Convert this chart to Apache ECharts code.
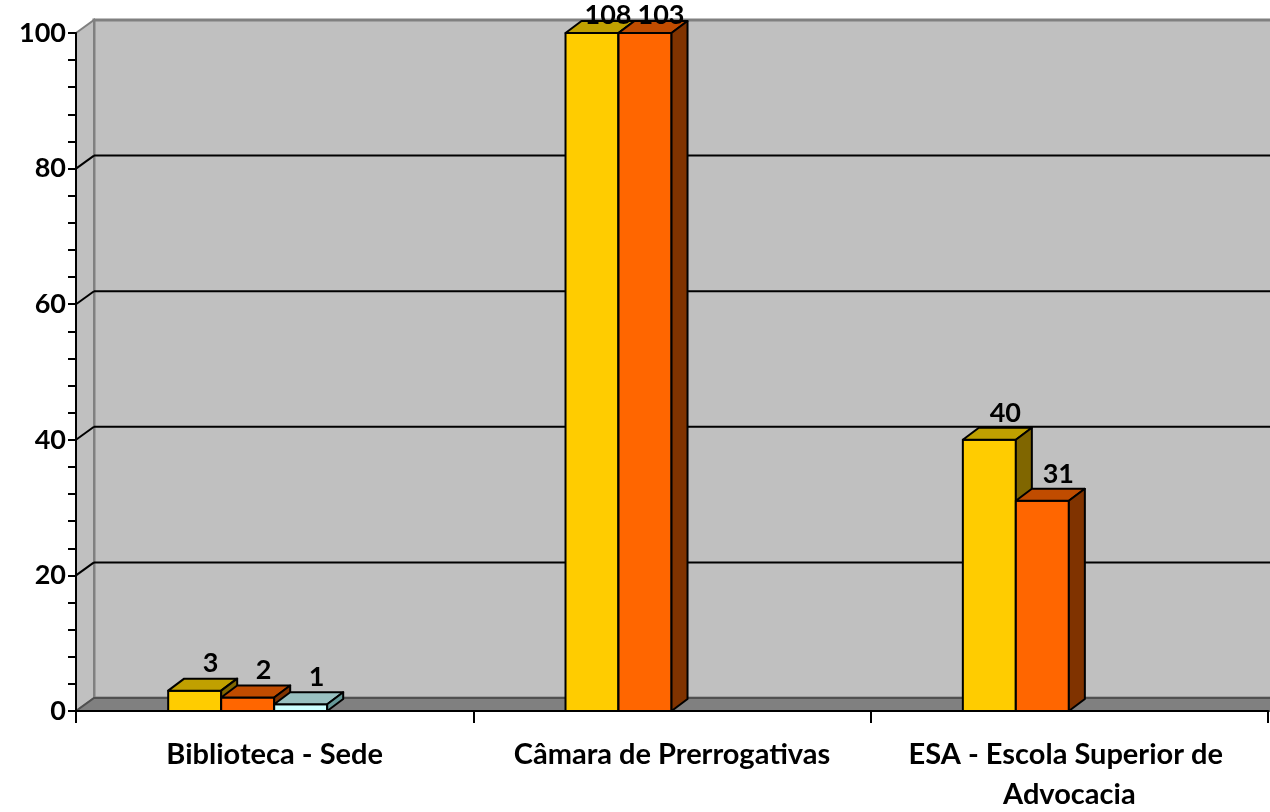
<!DOCTYPE html>
<html>
<head>
<meta charset="utf-8">
<script src="https://cdn.jsdelivr.net/npm/echarts@6/dist/echarts.min.js"></script>
<style>html,body{margin:0;padding:0;background:#fff}#c{width:1270px;height:812px}</style>
</head>
<body>
<div id="c"></div>
<script>
const categories = ['Biblioteca - Sede', 'Câmara de Prerrogativas', 'ESA - Escola Superior de Advocacia'];
const seriesA = [3, 108, 40];
const seriesB = [2, 103, 31];
const seriesC = [1, null, null];
const yTicks = [0, 20, 40, 60, 80, 100];
const yMax = 100;

const FONT = 'Lato';
const DX = 18, DY = -13;   // wall depth
const BDX = 16, BDY = -12; // bar depth

const palettes = [
  {front: '#FFCC00', top: '#C0A000', side: '#806600'},
  {front: '#FF6600', top: '#C04C00', side: '#803300'},
  {front: '#CCFFFF', top: '#99C0C0', side: '#669999'}
];

function barRender(si) {
  const c = palettes[si];
  return function (params, api) {
    const cat = api.value(0);
    const v = api.value(1);
    if (v == null || isNaN(v)) return;
    const base = api.coord([cat, 0]);
    const top = api.coord([cat, Math.min(v, yMax)]);
    const band = api.size([1, 0])[0];
    const w = band * 0.1334;
    const l = base[0] - band / 2 + band * 0.232 + si * w;
    const r = l + w;
    const yb = base[1], yt = top[1];
    const st = {stroke: '#000', lineWidth: 2, lineJoin: 'round'};
    const gridTop = params.coordSys.y;
    return {
      type: 'group',
      children: [
        {type: 'polygon', shape: {points: [[l, yt], [r, yt], [r, yb], [l, yb]]}, style: Object.assign({fill: c.front}, st)},
        {type: 'polygon', shape: {points: [[l, yt], [r, yt], [r + BDX, yt + BDY], [l + BDX, yt + BDY]]}, style: Object.assign({fill: c.top}, st)},
        {type: 'polygon', shape: {points: [[r, yt], [r + BDX, yt + BDY], [r + BDX, yb + BDY], [r, yb]]}, style: Object.assign({fill: c.side}, st)},
        {type: 'text', x: (l + r) / 2 + 16, y: Math.max(yt - 27, gridTop - 18),
         style: {text: String(v), fontFamily: FONT, fontWeight: 'bold', fontSize: 27, fill: '#000', align: 'center', verticalAlign: 'middle'}}
      ]
    };
  };
}

function wallRender(params, api) {
  const cs = params.coordSys;
  const x0 = cs.x, x1 = cs.x + cs.width;
  const yb = api.coord([0, 0])[1];
  const yt = api.coord([0, yMax])[1];
  return {
    type: 'group',
    children: [
      {type: 'polygon', shape: {points: [[x0 + DX, yt + DY], [x1 + DX + 40, yt + DY], [x1 + DX + 40, yb + DY], [x0 + DX, yb + DY]]},
       style: {fill: '#C0C0C0', stroke: '#808080', lineWidth: 3}},
      {type: 'polygon', shape: {points: [[x0, yt], [x0 + DX, yt + DY], [x0 + DX, yb + DY], [x0, yb]]},
       style: {fill: '#C0C0C0', stroke: '#808080', lineWidth: 2}},
      {type: 'polygon', shape: {points: [[x0, yb], [x1 + 40, yb], [x1 + DX + 40, yb + DY], [x0 + DX, yb + DY]]},
       style: {fill: '#808080', stroke: '#505050', lineWidth: 2}}
    ]
  };
}

function gridRender(params, api) {
  const cs = params.coordSys;
  const x0 = cs.x, x1 = cs.x + cs.width;
  const t = api.value(1);
  if (t <= 0 || t >= yMax) return;
  const y = api.coord([0, t])[1];
  return {
    type: 'group',
    children: [
      {type: 'line', shape: {x1: x0, y1: y, x2: x0 + DX, y2: y + DY}, style: {stroke: '#000', lineWidth: 2}},
      {type: 'line', shape: {x1: x0 + DX, y1: y + DY, x2: x1 + DX + 40, y2: y + DY}, style: {stroke: '#000', lineWidth: 2}}
    ]
  };
}

const chart = echarts.init(document.getElementById('c'), null, {renderer: 'canvas'});
const mk = (arr) => arr.map((v, i) => [i, v == null ? NaN : v]);

chart.setOption({
  backgroundColor: '#fff',
  animation: false,
  grid: {left: 76, right: 2, top: 33, bottom: 101, containLabel: false, outerBoundsMode: 'none'},
  xAxis: {
    type: 'category', data: categories, z: 10,
    axisLine: {lineStyle: {color: '#000', width: 2}},
    axisTick: {show: true, length: 12, lineStyle: {color: '#000', width: 2}},
    axisLabel: {interval: 0, color: '#000', fontFamily: FONT, fontWeight: 'bold', fontSize: 29, margin: 24,
                width: 380, overflow: 'break', lineHeight: 40}
  },
  yAxis: {
    type: 'value', min: 0, max: yMax, interval: 20, z: 10,
    axisLine: {show: true, lineStyle: {color: '#000', width: 2}},
    axisTick: {show: true, length: 8, lineStyle: {color: '#000', width: 2}},
    minorTick: {show: true, splitNumber: 5, length: 8, lineStyle: {color: '#000', width: 2}},
    splitLine: {show: false},
    axisLabel: {color: '#000', fontFamily: FONT, fontWeight: 'bold', fontSize: 27, margin: 10,
                formatter: (v) => yTicks.indexOf(v) >= 0 ? String(v) : ''}
  },
  series: [
    {type: 'custom', renderItem: wallRender, data: [[0, 0]], z: 1, silent: true},
    {type: 'custom', renderItem: gridRender, data: yTicks.map(t => [0, t]), z: 2, silent: true},
    {type: 'custom', name: 'A', renderItem: barRender(0), data: mk(seriesA), z: 3},
    {type: 'custom', name: 'B', renderItem: barRender(1), data: mk(seriesB), z: 4},
    {type: 'custom', name: 'C', renderItem: barRender(2), data: mk(seriesC), z: 5}
  ]
});
</script>
</body>
</html>
